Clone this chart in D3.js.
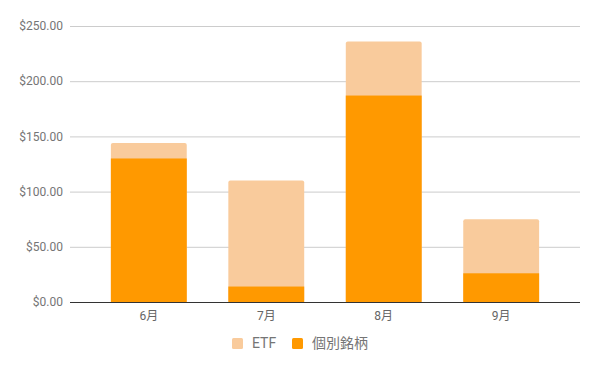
<!DOCTYPE html>
<html><head><meta charset="utf-8">
<script src="https://cdn.jsdelivr.net/npm/d3@7"></script>
<style>body{margin:0;background:#fff;}svg{display:block;font-family:Roboto,"Noto Sans CJK JP",sans-serif;}</style>
</head><body>
<svg id="c" width="600" height="371"></svg>
<script>
const categories = ["6月","7月","8月","9月"];
const individualStocks = [130, 14, 187, 26];
const etf = [14, 96, 49, 49];
const yTicks = [0, 50, 100, 150, 200, 250];
const seriesNames = ["ETF","個別銘柄"];
const colors = {"ETF":"#f9cb9c","個別銘柄":"#ff9900"};

const svg = d3.select("#c");
const x = d3.scaleBand().domain(categories).range([70,580]).paddingInner(0.354).paddingOuter(0.348);
const y = d3.scaleLinear().domain([0,250]).range([302,26]);

// gridlines
svg.append("g").selectAll("line").data(yTicks.filter(d=>d>0)).join("line")
  .attr("x1",70).attr("x2",580).attr("y1",d=>y(d)+0.5).attr("y2",d=>y(d)+0.5)
  .attr("stroke","#cccccc").attr("stroke-width",1);

// y labels
svg.append("g").selectAll("text").data(yTicks).join("text")
  .attr("x",63).attr("y",d=>y(d)).attr("dy","0.35em").attr("text-anchor","end")
  .attr("font-size",12).attr("fill","#757575")
  .text(d=>"$"+d3.format(".2f")(d));

const rows = categories.map((c,i)=>({c, s:individualStocks[i], e:etf[i]}));
svg.append("g").selectAll("rect").data(rows).join("rect")
  .attr("x",d=>x(d.c)).attr("width",x.bandwidth())
  .attr("y",d=>y(d.s+d.e)).attr("height",d=>y(0)-y(d.s+d.e))
  .attr("rx",2).attr("fill",colors["ETF"]);
svg.append("g").selectAll("rect").data(rows).join("rect")
  .attr("x",d=>x(d.c)).attr("width",x.bandwidth())
  .attr("y",d=>y(d.s)).attr("height",d=>y(0)-y(d.s))
  .attr("fill",colors["個別銘柄"]);

// baseline
svg.append("line").attr("x1",70).attr("x2",580).attr("y1",y(0)+0.5).attr("y2",y(0)+0.5)
  .attr("stroke","#333333").attr("stroke-width",1);

// x labels
svg.append("g").selectAll("text").data(categories).join("text")
  .attr("x",d=>x(d)+x.bandwidth()/2).attr("y",316).attr("dy","0.35em")
  .attr("text-anchor","middle").attr("font-size",12).attr("fill","#666666")
  .text(d=>d);

// legend
const lg = svg.append("g");
const legendX = [232, 292];
seriesNames.forEach((n,i)=>{
  lg.append("rect").attr("x",legendX[i]).attr("y",338).attr("width",11).attr("height",11).attr("rx",1.5).attr("fill",colors[n]);
  lg.append("text").attr("x",legendX[i]+20).attr("y",343.5).attr("dy","0.35em")
    .attr("font-size",14).attr("fill","#757575").text(n);
});
</script>
</body></html>
